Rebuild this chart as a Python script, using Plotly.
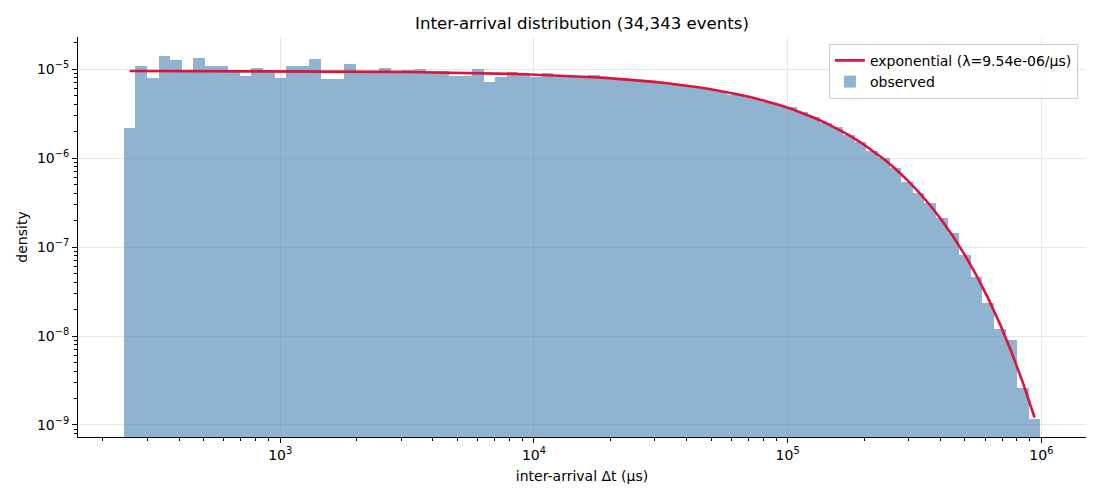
import numpy as np
import plotly.graph_objects as go

# ---- data ----
bin_lo = 242.0          # lower edge of first bin (µs)
bin_hi = 991000.0       # upper edge of last bin (µs)
n_bins = 79
lam = 9.54e-06          # fitted rate (1/µs)

density = [
    2.19e-6, 1.09e-5, 7.98e-6, 1.41e-5, 1.27e-5, 9.4e-6, 1.34e-5, 1.09e-5, 1.09e-5, 9.5e-6,
    8.4e-6, 1.03e-5, 9.4e-6, 7.98e-6, 1.09e-5, 1.09e-5, 1.31e-5, 7.78e-6, 7.78e-6, 1.15e-5,
    9.0e-6, 9.3e-6, 1.03e-5, 9.3e-6, 9.8e-6, 1.0e-5, 9.2e-6, 9.6e-6, 8.26e-6, 8.26e-6,
    1.0e-5, 7.2e-6, 8.2e-6, 9.3e-6, 9.0e-6, 8.05e-6, 9.1e-6, 8.05e-6, 8.3e-6, 8.3e-6,
    8.6e-6, 7.9e-6, 7.8e-6, 7.7e-6, 7.5e-6, 7.2e-6, 7.0e-6, 6.7e-6, 6.5e-6, 6.2e-6,
    5.9e-6, 5.6e-6, 5.14e-6, 4.95e-6, 4.6e-6, 4.21e-6, 3.95e-6, 3.76e-6, 3.28e-6, 2.88e-6,
    2.5e-6, 2.24e-6, 1.82e-6, 1.52e-6, 1.2e-6, 9.9e-7, 7.76e-7, 5.44e-7, 4.09e-7, 3.11e-7,
    2.12e-7, 1.44e-7, 8.15e-8, 4.61e-8, 2.35e-8, 1.2e-8, 9.0e-9, 2.6e-9, 1.17e-9,
]

x_tickvals = [1e3, 1e4, 1e5, 1e6]
x_ticktext = ["10<sup>3</sup>", "10<sup>4</sup>", "10<sup>5</sup>", "10<sup>6</sup>"]
y_tickvals = [1e-9, 1e-8, 1e-7, 1e-6, 1e-5]
y_ticktext = ["10<sup>\u22129</sup>", "10<sup>\u22128</sup>", "10<sup>\u22127</sup>",
              "10<sup>\u22126</sup>", "10<sup>\u22125</sup>"]

# ---- derived geometry ----
edges = np.logspace(np.log10(bin_lo), np.log10(bin_hi), n_bins + 1)
left, right = edges[:-1], edges[1:]
mid = (left + right) / 2
width = right - left
centers = np.sqrt(left * right)
model = lam * np.exp(-lam * centers)

x_minor = [m * 10 ** e for e in range(2, 7) for m in range(2, 10) if 150 < m * 10 ** e < 1.5e6]
y_minor = [m * 10.0 ** e for e in range(-10, -4) for m in range(2, 10) if 7e-10 < m * 10.0 ** e < 2.3e-5]

FONT = "DejaVu Sans"

fig = go.Figure()
fig.add_trace(go.Bar(
    x=mid, y=density, width=width, base=1e-12,
    marker=dict(color="steelblue", line=dict(width=0)),
    opacity=0.6, name="observed", legendrank=2,
))
fig.add_trace(go.Scatter(
    x=centers, y=model, mode="lines",
    line=dict(color="crimson", width=2.6),
    name=f"exponential (\u03bb={lam:.2e}/\u00b5s)", legendrank=1,
))

axis_common = dict(
    showline=True, linecolor="black", linewidth=1, mirror=False,
    ticks="outside", ticklen=5, tickwidth=1, tickcolor="black",
    showgrid=True, gridcolor="#e6e6e6", gridwidth=1, zeroline=False,
    tickfont=dict(family=FONT, size=14, color="black"),
)

fig.update_layout(
    width=1100, height=500,
    paper_bgcolor="white", plot_bgcolor="white",
    margin=dict(l=70, r=22, t=29, b=71, autoexpand=False),
    bargap=0,
    font=dict(family=FONT, size=14, color="black"),
    title=dict(text="Inter-arrival distribution (34,343 events)", x=0.5, xref="paper",
               y=0.97, yref="container", yanchor="middle",
               font=dict(family=FONT, size=16.6, color="black")),
    xaxis=dict(type="log", range=[2.203, 6.176], tickmode="array",
               tickvals=x_tickvals, ticktext=x_ticktext,
               minor=dict(tickmode="array", tickvals=x_minor, ticks="outside",
                          ticklen=3, tickcolor="black", showgrid=False),
               title=dict(text="inter-arrival \u0394t (\u03bcs)", standoff=9,
                          font=dict(family=FONT, size=14)),
               **axis_common),
    yaxis=dict(type="log", range=[-9.135, -4.640], tickmode="array",
               tickvals=y_tickvals, ticktext=y_ticktext,
               minor=dict(tickmode="array", tickvals=y_minor, ticks="outside",
                          ticklen=3, tickcolor="black", showgrid=False),
               title=dict(text="density", standoff=6, font=dict(family=FONT, size=14)),
               **axis_common),
    legend=dict(x=0.992, y=0.983, xanchor="right", yanchor="top",
                bgcolor="rgba(255,255,255,0.8)", bordercolor="#cccccc", borderwidth=1,
                font=dict(family=FONT, size=14), tracegroupgap=0),
    showlegend=True,
)

fig.write_html("out.html")
